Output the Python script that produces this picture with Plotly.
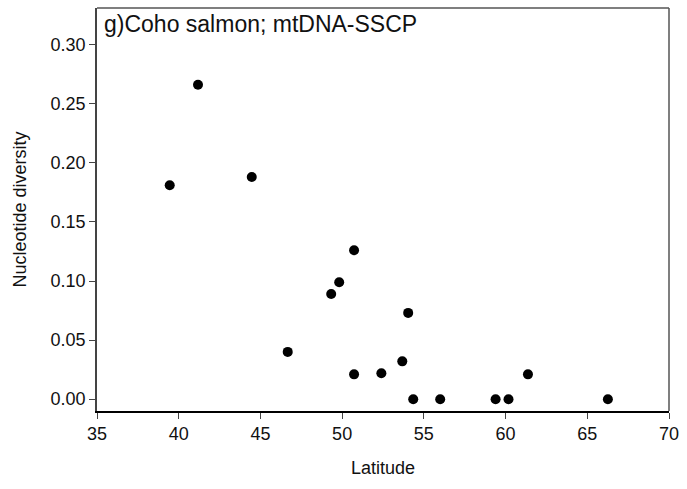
import plotly.graph_objects as go

latitude = [39.45, 41.18, 44.47, 46.67, 49.33, 49.82, 50.73, 54.04, 53.68, 50.73, 52.4,
            54.35, 56.0, 59.39, 60.18, 61.37, 66.26]
diversity = [0.181, 0.266, 0.188, 0.040, 0.089, 0.099, 0.126, 0.073, 0.032, 0.021, 0.022,
             0.0, 0.0, 0.0, 0.0, 0.021, 0.0]

x_ticks = [35, 40, 45, 50, 55, 60, 65, 70]
y_ticks = [0.0, 0.05, 0.10, 0.15, 0.20, 0.25, 0.30]
y_labels = ["0.00", "0.05", "0.10", "0.15", "0.20", "0.25", "0.30"]

FONT = "Liberation Sans, Arial, sans-serif"

fig = go.Figure()
fig.add_trace(go.Scatter(
    x=latitude, y=diversity, mode="markers",
    marker=dict(color="black", size=10, line=dict(width=0)),
    showlegend=False,
))

frame = "#555555"
fig.update_layout(
    width=687, height=489,
    margin=dict(l=97, r=16, t=8, b=78),
    paper_bgcolor="white", plot_bgcolor="white",
    font=dict(family=FONT, size=18, color="#111"),
    annotations=[dict(
        text="g)Coho salmon; mtDNA-SSCP", xref="paper", yref="paper",
        x=0.008, y=0.997, xanchor="left", yanchor="top", showarrow=False,
        font=dict(family=FONT, size=23, color="#111"),
    )],
    shapes=[
        dict(type="line", xref="paper", yref="paper", x0=0, x1=1, y0=1, y1=1,
             line=dict(color=frame, width=1.5)),
        dict(type="line", xref="paper", yref="paper", x0=1, x1=1, y0=0, y1=1,
             line=dict(color=frame, width=1.5)),
    ],
)
fig.update_xaxes(
    range=[35, 70], tickvals=x_ticks, ticks="outside", ticklen=6, tickwidth=1,
    tickcolor="#444", showline=True, linecolor="#000", linewidth=1.5, mirror=False,
    showgrid=False, zeroline=False,
    title=dict(text="Latitude", font=dict(size=18), standoff=18),
)
fig.update_yaxes(
    range=[-0.01, 0.331], tickvals=y_ticks, ticktext=y_labels, ticks="outside",
    ticklen=6, tickwidth=1, tickcolor="#444", showline=True, linecolor="#444",
    linewidth=1.5, mirror=False, showgrid=False, zeroline=False,
    title=dict(text="Nucleotide diversity", font=dict(size=18), standoff=19),
)

fig.write_html("out.html")
